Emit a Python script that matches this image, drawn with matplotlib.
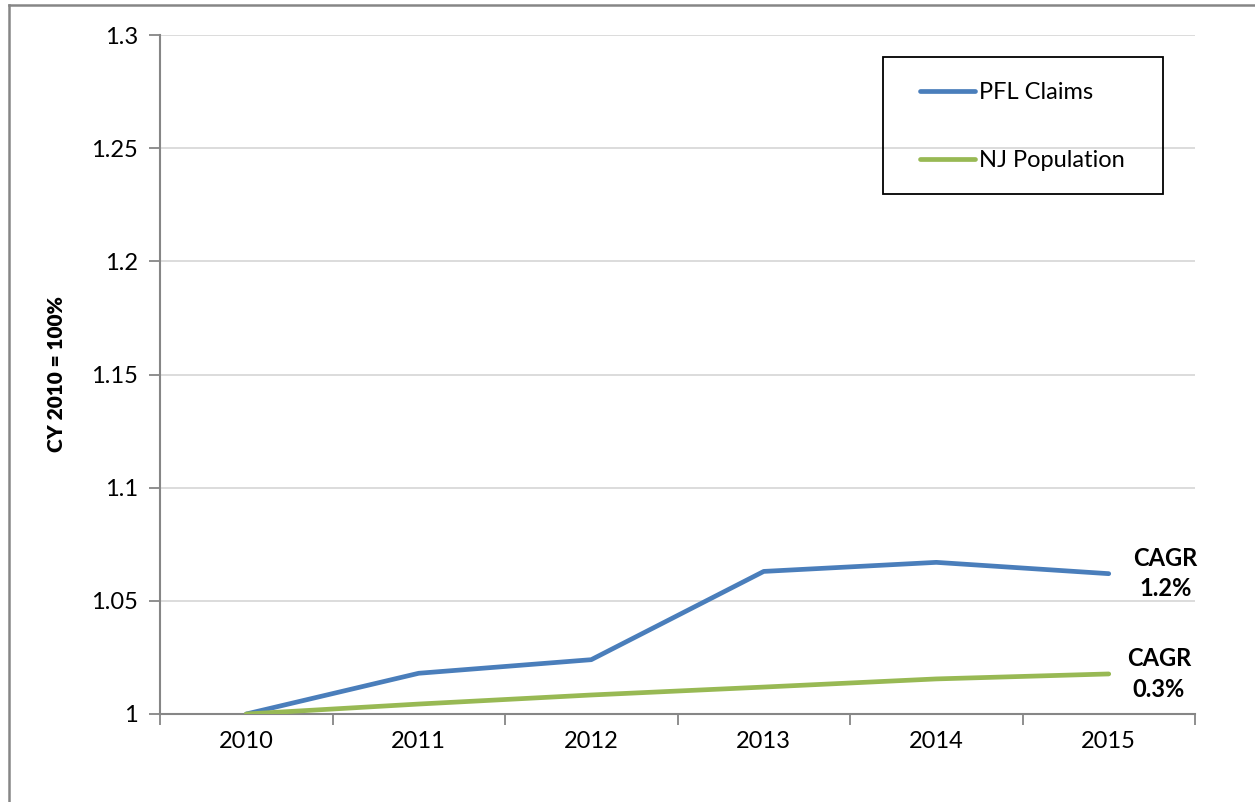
import matplotlib.pyplot as plt
from matplotlib.lines import Line2D
from matplotlib.patches import Rectangle

years = ['2010', '2011', '2012', '2013', '2014', '2015']
pfl_claims = [1.0, 1.018, 1.024, 1.063, 1.067, 1.062]
nj_population = [1.0, 1.0044, 1.0084, 1.0119, 1.0155, 1.0177]
y_ticks = [1, 1.05, 1.1, 1.15, 1.2, 1.25, 1.3]
y_tick_labels = ['1', '1.05', '1.1', '1.15', '1.2', '1.25', '1.3']
cagr_labels = ['CAGR\n1.2%', 'CAGR\n0.3%']

plt.rcParams['font.family'] = ['Lato', 'DejaVu Sans']

W, H = 1255, 802
fig = plt.figure(figsize=(W / 100, H / 100), dpi=100)
ax = fig.add_axes([160 / W, 1 - 714 / H, (1195 - 160) / W, (714 - 35) / H])

x = list(range(len(years)))
ax.plot(x, pfl_claims, color='#4a7ebb', lw=3.4, solid_capstyle='round', label='PFL Claims', zorder=3)
ax.plot(x, nj_population, color='#98b954', lw=3.4, solid_capstyle='round', label='NJ Population', zorder=3)

ax.set_xlim(-0.5, len(years) - 0.5)
ax.set_ylim(1, 1.3)
ax.set_yticks(y_ticks)
ax.set_yticklabels(y_tick_labels)
ax.set_xticks(x)
ax.set_xticklabels(years)
ax.set_xticks([i - 0.5 for i in range(len(years) + 1)], minor=True)

ax.tick_params(axis='x', which='major', length=0, pad=12, labelsize=17)
ax.tick_params(axis='x', which='minor', length=8, width=1.3, color='#868686', direction='out')
ax.tick_params(axis='y', length=8, width=1.3, color='#868686', pad=8, labelsize=17)

ax.grid(axis='y', color='#d9d9d9', lw=1.3)
ax.set_axisbelow(True)
for s in ['top', 'right']:
    ax.spines[s].set_visible(False)
for s in ['left', 'bottom']:
    ax.spines[s].set_color('#868686')
    ax.spines[s].set_linewidth(1.5)

ax.set_ylabel('CY 2010 = 100%', fontsize=15, fontweight='heavy')
ax.yaxis.set_label_coords((66 - 160) / (1195 - 160), 0.5)

ax.text(5.33, pfl_claims[-1], cagr_labels[0], ha='center', va='center',
        fontsize=17, fontweight='bold', linespacing=1.4, clip_on=False)
ax.text(5.29, nj_population[-1], cagr_labels[1], ha='center', va='center',
        fontsize=17, fontweight='bold', linespacing=1.4, clip_on=False)

# legend box drawn separately so its padding can match the reference
fig.add_artist(Rectangle((883 / W, 1 - 194 / H), (1163 - 883) / W, (194 - 57) / H,
                         transform=fig.transFigure, fill=False, edgecolor='black', lw=1.3))
leg = ax.legend(loc='upper left', bbox_to_anchor=(920 / W, 1 - 82 / H),
                bbox_transform=fig.transFigure, fontsize=17, frameon=False,
                handlelength=2.35, handletextpad=0.15, labelspacing=2.0,
                borderpad=0, borderaxespad=0)

fig.add_artist(Line2D([9 / W, 9 / W], [0, 1 - 5 / H], color='#868686', lw=1.8))
fig.add_artist(Line2D([9 / W, 1254 / W], [1 - 5 / H, 1 - 5 / H], color='#868686', lw=1.8))

fig.savefig('out.png', dpi=100)
